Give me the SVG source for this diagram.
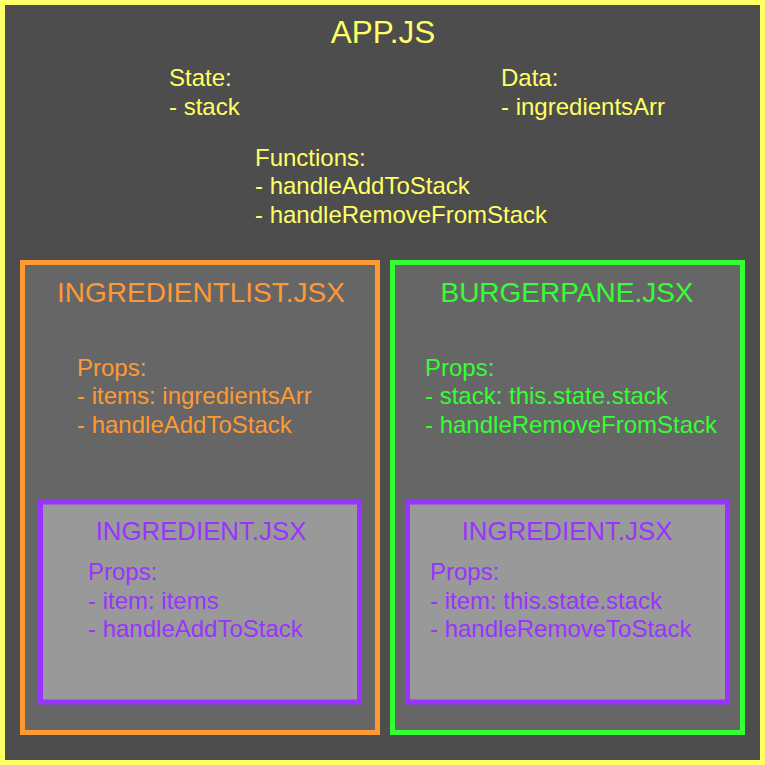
<svg xmlns="http://www.w3.org/2000/svg" width="765" height="765" viewBox="0 0 765 765">
<style>
text{font-family:"Liberation Sans",Arial,Helvetica,sans-serif;}
.y{fill:#ffff66}
.o{fill:#ff9933}
.g{fill:#33ff33}
.p{fill:#9933ff}
.body{font-size:24px}
.t1{font-size:31.5px}
.t2{font-size:28px}
.t3{font-size:25.8px}
</style>
<g id="app">
<rect x="2.5" y="2.5" width="760" height="760" fill="#4d4d4d" stroke="#ffff66" stroke-width="5"/>
<text class="y t1" x="383" y="43" text-anchor="middle">APP.JS</text>
<text class="y body" x="169" y="86">State:</text>
<text class="y body" x="169" y="115">- stack</text>
<text class="y body" x="501" y="86">Data:</text>
<text class="y body" x="501" y="115">- ingredientsArr</text>
<text class="y body" x="255" y="166">Functions:</text>
<text class="y body" x="255" y="194">- handleAddToStack</text>
<text class="y body" x="255" y="223">- handleRemoveFromStack</text>
</g>
<g id="ingredientlist">
<rect x="22.5" y="262.5" width="355" height="470" fill="#666666" stroke="#ff9933" stroke-width="5"/>
<text class="o t2" x="201" y="302" text-anchor="middle">INGREDIENTLIST.JSX</text>
<text class="o body" x="77" y="376">Props:</text>
<text class="o body" x="77" y="404">- items: ingredientsArr</text>
<text class="o body" x="77" y="433">- handleAddToStack</text>
</g>
<g id="burgerpane">
<rect x="392.5" y="262.5" width="350" height="470" fill="#666666" stroke="#33ff33" stroke-width="5"/>
<text class="g t2" x="567" y="302" text-anchor="middle">BURGERPANE.JSX</text>
<text class="g body" x="425" y="376">Props:</text>
<text class="g body" x="425" y="404">- stack: this.state.stack</text>
<text class="g body" x="425" y="433">- handleRemoveFromStack</text>
</g>
<g id="ingredient-left">
<rect x="40.5" y="502" width="319" height="200" fill="#999999" stroke="#9933ff" stroke-width="5"/>
<text class="p t3" x="201" y="540" text-anchor="middle">INGREDIENT.JSX</text>
<text class="p body" x="88" y="580">Props:</text>
<text class="p body" x="88" y="609">- item: items</text>
<text class="p body" x="88" y="637">- handleAddToStack</text>
</g>
<g id="ingredient-right">
<rect x="407.5" y="502" width="320" height="200" fill="#999999" stroke="#9933ff" stroke-width="5"/>
<text class="p t3" x="567" y="540" text-anchor="middle">INGREDIENT.JSX</text>
<text class="p body" x="430" y="580">Props:</text>
<text class="p body" x="430" y="609">- item: this.state.stack</text>
<text class="p body" x="430" y="637">- handleRemoveToStack</text>
</g>
<g id="connectors"/>
</svg>
